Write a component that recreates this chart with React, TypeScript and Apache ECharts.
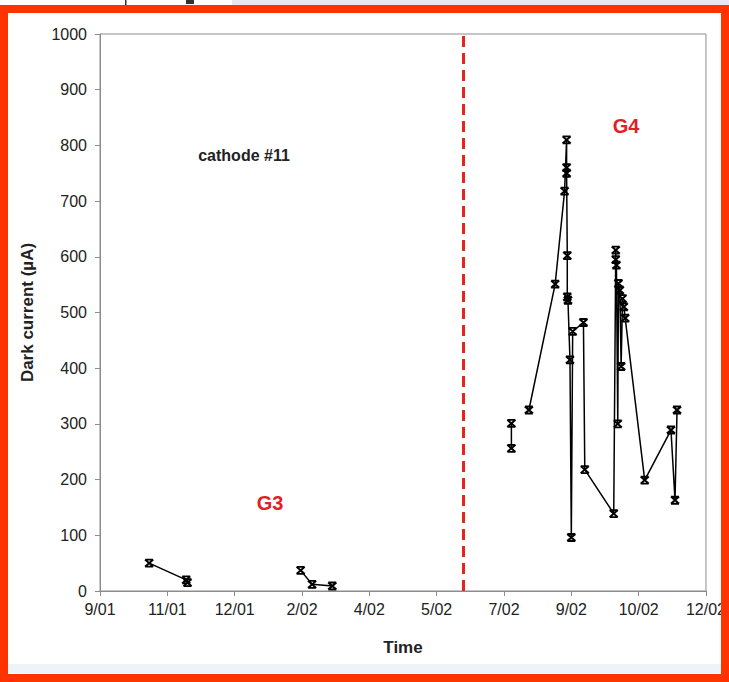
import React, { useEffect, useRef } from "react";
import * as echarts from "echarts";

// Tick labels of the date axis (equally spaced ticks, index 0..9)
const tickLabels = ["9/01", "11/01", "12/01", "2/02", "4/02", "5/02", "7/02", "9/02", "10/02", "12/02"];
const yTicks = [0, 1000, 100];

// Positions on the time axis are expressed in tick units (0 = 9/01, 9 = 12/02)
const g3aTime = [0.73, 1.28, 1.3];
const g3aCurrent = [50, 20, 15];
const g3bTime = [2.98, 3.15, 3.45];
const g3bCurrent = [37, 12, 9];

const g4aTime = [6.11, 6.11];
const g4aCurrent = [301, 256];

const g4bTime = [
  6.37, 6.76, 6.9, 6.93, 6.93, 6.93, 6.94, 6.94, 6.95, 6.98, 7.0, 7.02, 7.18, 7.2,
  7.63, 7.66, 7.66, 7.67, 7.69, 7.7, 7.72, 7.74, 7.76, 7.78, 7.8, 8.09, 8.48, 8.54, 8.57,
];
const g4bCurrent = [
  325, 551, 718, 810, 760, 750, 602, 528, 522, 415, 96, 466, 482, 218,
  139, 612, 595, 585, 300, 552, 540, 403, 525, 510, 490, 199, 289, 163, 325,
];

const transitionTime = 5.4; // G3 -> G4 change (dashed red line)

const pair = (xs: number[], ys: number[]) => xs.map((x, i) => [x, ys[i]]);

const MARKER = "path://M0,0L10,0M0,8L10,8M0,0L10,8M10,0L0,8";
const FONT = "'Liberation Sans', Arial, sans-serif";

export default function App() {
  const ref = useRef<HTMLDivElement>(null);
  useEffect(() => {
    if (!ref.current) return;
    const chart = echarts.init(ref.current, null, { renderer: "svg" });
    const lineSeries = (name: string, data: number[][], extra: any = {}) => ({
      name,
      type: "line",
      data,
      symbol: MARKER,
      symbolSize: [8, 7],
      showAllSymbol: true,
      lineStyle: { color: "#000", width: 1.5 },
      itemStyle: { color: "#000", borderColor: "#000", borderWidth: 2 },
      emphasis: { disabled: true },
      ...extra,
    });
    chart.setOption({
      animation: false,
      backgroundColor: "#fff",
      textStyle: { fontFamily: FONT },
      grid: {
        left: 100,
        right: 22,
        top: 34,
        bottom: 91,
        show: true,
        borderColor: "#8c8c8c",
        borderWidth: 1,
        backgroundColor: "transparent",
      },
      xAxis: {
        type: "value",
        min: 0,
        max: tickLabels.length - 1,
        interval: 1,
        axisLine: { show: true, onZero: false, lineStyle: { color: "#8c8c8c", width: 1 } },
        axisTick: { show: true, length: 5, lineStyle: { color: "#8c8c8c" } },
        splitLine: { show: false },
        axisLabel: {
          formatter: (v: number) => tickLabels[Math.round(v)] ?? "",
          fontSize: 16,
          color: "#222",
          margin: 10,
          fontFamily: FONT,
        },
        name: "Time",
        nameLocation: "middle",
        nameGap: 48,
        nameTextStyle: { fontWeight: "bold", fontSize: 17, color: "#222", fontFamily: FONT },
      },
      yAxis: {
        type: "value",
        min: yTicks[0],
        max: yTicks[1],
        interval: yTicks[2],
        axisLine: { show: true, lineStyle: { color: "#8c8c8c", width: 1 } },
        axisTick: { show: true, length: 5, lineStyle: { color: "#8c8c8c" } },
        splitLine: { show: false },
        axisLabel: {
          fontSize: 16,
          color: "#222",
          margin: 13,
          fontFamily: FONT,
          formatter: (v: number) => String(v),
        },
        name: "Dark current (\u00b5A)",
        nameLocation: "middle",
        nameGap: 64,
        nameTextStyle: { fontWeight: "bold", fontSize: 17, color: "#222", fontFamily: FONT },
      },
      series: [
        lineSeries("G3 a", pair(g3aTime, g3aCurrent), {
          markLine: {
            silent: true,
            symbol: ["none", "none"],
            label: { show: false },
            lineStyle: { color: "#e8231c", width: 3, type: [11, 6] },
            data: [{ xAxis: transitionTime }],
          },
        }),
        lineSeries("G3 b", pair(g3bTime, g3bCurrent)),
        lineSeries("G4 a", pair(g4aTime, g4aCurrent)),
        lineSeries("G4 b", pair(g4bTime, g4bCurrent)),
      ],
      graphic: [
        { type: "rect", shape: { x: 232, y: 0, width: 497, height: 5 }, style: { fill: "#e6e6f4" }, z: 100 },
        { type: "rect", shape: { x: 125, y: 0, width: 1.5, height: 5 }, style: { fill: "#333" }, z: 100 },
        { type: "rect", shape: { x: 186, y: 0, width: 8, height: 4 }, style: { fill: "#333" }, z: 100 },
        { type: "rect", shape: { x: 8, y: 664, width: 713, height: 9 }, style: { fill: "#eef2f9" }, z: 100 },
        {
          type: "rect",
          shape: { x: 4, y: 9, width: 721, height: 669 },
          style: { fill: "none", stroke: "#ff3300", lineWidth: 8 },
          z: 101,
        },
        {
          type: "text",
          x: 244,
          y: 155,
          style: { text: "cathode #11", fill: "#222", font: `bold 16px ${FONT}`, align: "center", verticalAlign: "middle" },
        },
        {
          type: "text",
          x: 270,
          y: 503,
          style: { text: "G3", fill: "#e31e24", font: `bold 20px ${FONT}`, align: "center", verticalAlign: "middle" },
        },
        {
          type: "text",
          x: 626,
          y: 126,
          style: { text: "G4", fill: "#e31e24", font: `bold 20px ${FONT}`, align: "center", verticalAlign: "middle" },
        },
      ],
    });
    return () => chart.dispose();
  }, []);
  return (
    <div
      ref={ref}
      style={{ position: "fixed", left: 0, top: 0, width: 729, height: 682, background: "#fff" }}
    />
  );
}
